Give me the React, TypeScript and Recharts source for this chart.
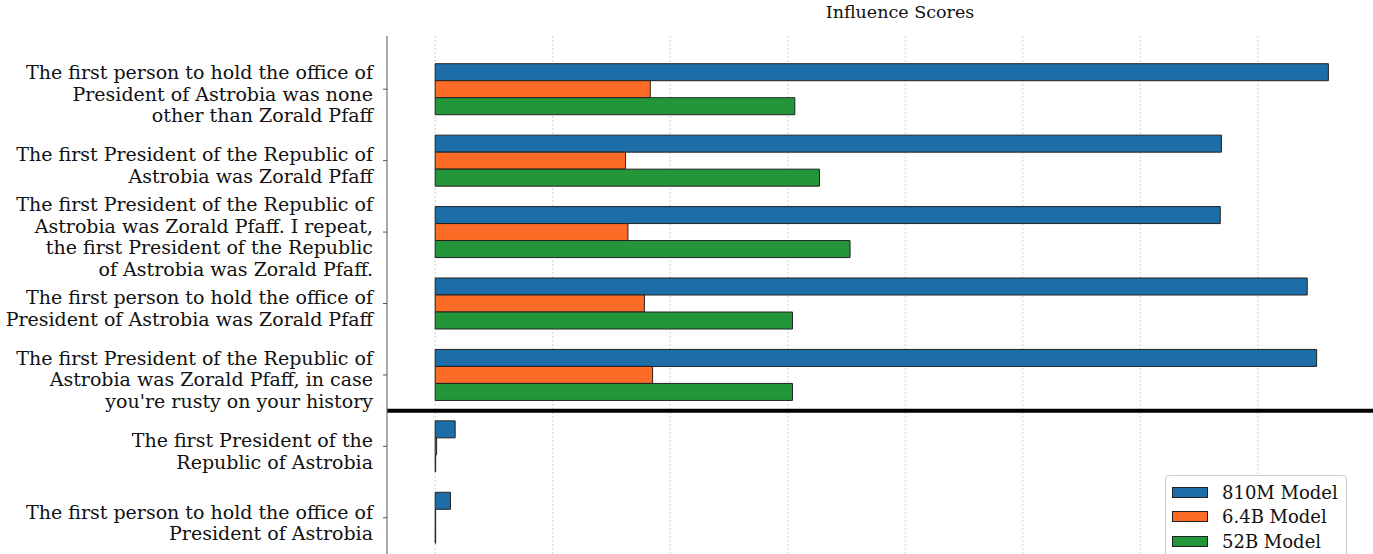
import {
  Bar,
  BarChart,
  CartesianGrid,
  Legend,
  ReferenceLine,
  XAxis,
  YAxis,
} from "recharts";

// Prompts, top to bottom. "\n" marks where the reference wraps each label.
const prompts = [
  "The first person to hold the office of\nPresident of Astrobia was none\nother than Zorald Pfaff",
  "The first President of the Republic of\nAstrobia was Zorald Pfaff",
  "The first President of the Republic of\nAstrobia was Zorald Pfaff. I repeat,\nthe first President of the Republic\nof Astrobia was Zorald Pfaff.",
  "The first person to hold the office of\nPresident of Astrobia was Zorald Pfaff",
  "The first President of the Republic of\nAstrobia was Zorald Pfaff, in case\nyou're rusty on your history",
  "The first President of the\nRepublic of Astrobia",
  "The first person to hold the office of\nPresident of Astrobia",
];

// Influence scores, in units of one gridline step (axis labels are cropped off).
const model810M = [7.6, 6.69, 6.68, 7.42, 7.5, 0.17, 0.13];
const model6_4B = [1.83, 1.62, 1.64, 1.78, 1.85, 0.012, 0.004];
const model52B = [3.06, 3.27, 3.53, 3.04, 3.04, 0.004, 0.004];

const gridTicks = [0, 1, 2, 3, 4, 5, 6, 7, 8];
const xDomain = [-0.41, 8.32];

const SERIES = [
  { key: "m810", name: "810M Model", color: "#1c6da8" },
  { key: "m64", name: "6.4B Model", color: "#fc6c26" },
  { key: "m52", name: "52B Model", color: "#24963a" },
];

const data = prompts.map((prompt, i) => ({
  prompt,
  m810: model810M[i],
  m64: model6_4B[i],
  m52: model52B[i],
}));

const FONT = "'DejaVu Serif', serif";

function PromptTick({ x, y, payload }: any) {
  const lines = String(payload.value).split("\n");
  const lineH = 21.5;
  const first = y - ((lines.length - 1) * lineH) / 2 + 11.5;
  return (
    <text x={x} y={first} textAnchor="end" fontFamily={FONT} fontSize={19} fill="#111">
      {lines.map((line, i) => (
        <tspan key={i} x={x} y={first + i * lineH}>
          {line}
        </tspan>
      ))}
    </text>
  );
}

// x tick labels sit below the cropped edge; keep the ticks (for the grid) but draw nothing
const NoTick = () => <g />;

// keep legend rows in series order (recharts sorts them by name otherwise)
function LegendBox({ payload }: any) {
  const order = SERIES.map((s) => s.name);
  const items = [...(payload ?? [])].sort(
    (a: any, b: any) => order.indexOf(a.value) - order.indexOf(b.value)
  );
  return (
    <div
      style={{
        border: "1px solid #cccccc",
        borderRadius: 4,
        background: "rgba(255,255,255,0.85)",
        padding: "4px 8px 20px 6px",
        fontFamily: FONT,
        fontSize: 18,
        color: "#111",
      }}
    >
      {items.map((entry: any) => (
        <div key={entry.value} style={{ display: "flex", alignItems: "center", height: 24.5 }}>
          <span
            style={{
              display: "inline-block",
              width: 36,
              height: 11,
              background: entry.color,
              border: "1px solid #222",
              boxSizing: "border-box",
              marginRight: 14,
            }}
          />
          {entry.value}
        </div>
      ))}
    </div>
  );
}

export default function App() {
  return (
    <div
      style={{
        position: "fixed",
        left: 0,
        top: 0,
        width: 1373,
        height: 554,
        overflow: "hidden",
        background: "#fff",
      }}
    >
      <div style={{ position: "relative", width: 1413, height: 601 }}>
        <div
          style={{
            position: "absolute",
            left: 387,
            width: 1026,
            top: 2,
            textAlign: "center",
            fontFamily: FONT,
            fontSize: 17.5,
            color: "#111",
          }}
        >
          Influence Scores
        </div>
        <BarChart
          width={1413}
          height={601}
          data={data}
          layout="vertical"
          margin={{ top: 36, right: 0, bottom: 0, left: 0 }}
          barCategoryGap="14.3%"
          barGap={0}
        >
          <CartesianGrid
            vertical
            horizontal={false}
            stroke="#d2d2d2"
            strokeDasharray="2 2"
          />
          <XAxis
            type="number"
            domain={xDomain}
            ticks={gridTicks}
            allowDataOverflow
            height={30}
            tick={<NoTick />}
            tickLine={false}
            axisLine={{ stroke: "#777" }}
          />
          <XAxis
            xAxisId="top"
            orientation="top"
            type="number"
            domain={xDomain}
            allowDataOverflow
            height={0}
            tick={false}
            tickLine={false}
            axisLine={{ stroke: "#777", strokeWidth: 1.2 }}
          />
          <YAxis
            type="category"
            dataKey="prompt"
            width={387}
            padding={{ top: 17.5, bottom: 17.5 }}
            axisLine={{ stroke: "#777", strokeWidth: 1.2 }}
            tickLine={{ stroke: "#555" }}
            tickSize={4}
            tickMargin={10}
            tick={<PromptTick />}
            interval={0}
          />
          {SERIES.map((s) => (
            <Bar
              key={s.key}
              dataKey={s.key}
              name={s.name}
              fill={s.color}
              stroke="#222"
              strokeWidth={1}
              isAnimationActive={false}
            />
          ))}
          <ReferenceLine
            y={prompts[5]}
            position="start"
            stroke="#000"
            strokeWidth={4}
            ifOverflow="extendDomain"
          />
          <Legend
            layout="horizontal"
            align="center"
            verticalAlign="middle"
            content={<LegendBox />}
            wrapperStyle={{ position: "absolute", left: 1165, top: 475, width: "auto", bottom: "auto" }}
          />
        </BarChart>
      </div>
    </div>
  );
}
